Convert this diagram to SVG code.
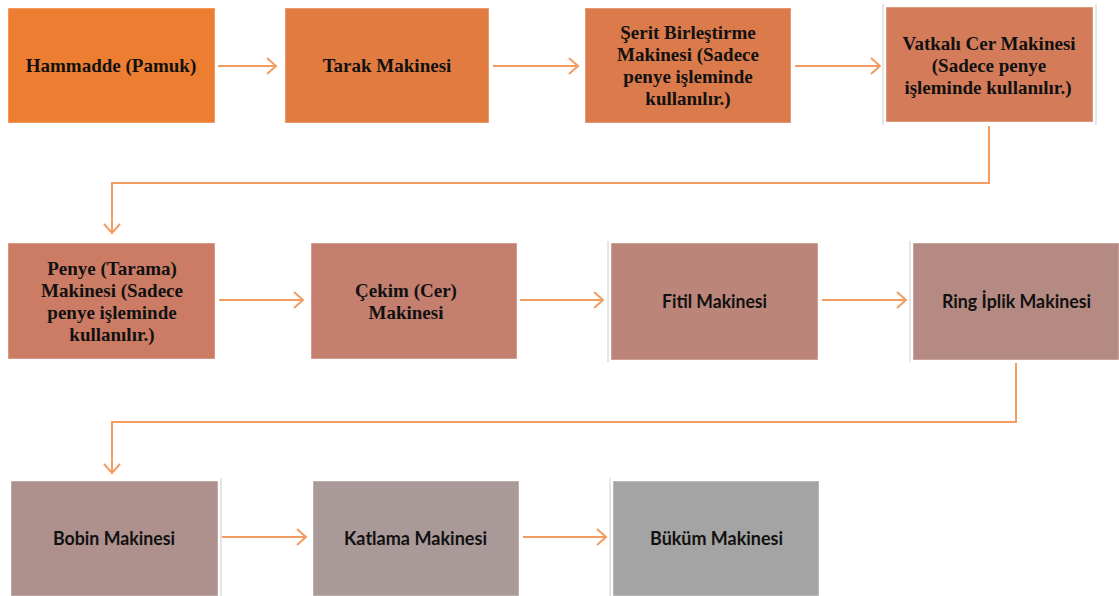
<svg xmlns="http://www.w3.org/2000/svg" width="1119" height="596" viewBox="0 0 1119 596">
<defs>
<marker id="chev" markerUnits="userSpaceOnUse" markerWidth="14" markerHeight="20" refX="11" refY="10" orient="auto" viewBox="0 0 14 20">
<path d="M2,2 L11,10 L2,18" fill="none" stroke="#F29C62" stroke-width="2"/>
</marker>
<style>
.box{stroke:#ffffff;stroke-opacity:0.45;stroke-width:1}
.serif{font-family:"Liberation Serif","Times New Roman",serif;font-weight:bold;font-size:19px;fill:#111;text-anchor:middle}
.sans{font-family:Lato,"Liberation Sans",sans-serif;font-weight:bold;font-size:18px;fill:#111;text-anchor:middle}
.conn{fill:none;stroke:#F29C62;stroke-width:2}
.edge{stroke:#cccccc;stroke-width:1}
</style>
</defs>
<rect width="1119" height="596" fill="#ffffff"/>
<g id="edges-deco">
<line class="edge" x1="883" y1="4" x2="883" y2="125"/>
<line class="edge" x1="1096" y1="4" x2="1096" y2="125"/>
<line class="edge" x1="608" y1="241" x2="608" y2="362"/>
<line class="edge" x1="910" y1="241" x2="910" y2="362"/>
<line class="edge" x1="221" y1="478" x2="221" y2="596"/>
<line class="edge" x1="610" y1="478" x2="610" y2="596"/>
</g>
<g id="connectors">
<line class="conn" x1="218" y1="66" x2="276" y2="66" marker-end="url(#chev)"/>
<line class="conn" x1="493" y1="66" x2="578" y2="66" marker-end="url(#chev)"/>
<line class="conn" x1="795" y1="66" x2="880" y2="66" marker-end="url(#chev)"/>
<polyline class="conn" points="989,126 989,183 112,183 112,233" marker-end="url(#chev)"/>
<line class="conn" x1="219" y1="300" x2="303" y2="300" marker-end="url(#chev)"/>
<line class="conn" x1="520" y1="300" x2="603" y2="300" marker-end="url(#chev)"/>
<line class="conn" x1="822" y1="300" x2="906" y2="300" marker-end="url(#chev)"/>
<polyline class="conn" points="1016,363 1016,422 112,422 112,473" marker-end="url(#chev)"/>
<line class="conn" x1="222" y1="537" x2="306" y2="537" marker-end="url(#chev)"/>
<line class="conn" x1="523" y1="537" x2="606" y2="537" marker-end="url(#chev)"/>
</g>
<g id="n1"><rect class="box" x="8" y="8" width="207" height="115" fill="#ED7D31"/><text class="serif" x="111" y="72">Hammadde (Pamuk)</text></g>
<g id="n2"><rect class="box" x="285" y="8" width="204" height="115" fill="#E27B40"/><text class="serif" x="387" y="72">Tarak Makinesi</text></g>
<g id="n3"><rect class="box" x="585" y="8" width="206" height="115" fill="#DB7A4B"/>
<text class="serif" x="688" y="38.5">Şerit Birleştirme</text>
<text class="serif" x="688" y="60.5">Makinesi (Sadece</text>
<text class="serif" x="688" y="82.5">penye işleminde</text>
<text class="serif" x="688" y="104.5">kullanılır.)</text></g>
<g id="n4"><rect class="box" x="886" y="7" width="207" height="115" fill="#D47B5A"/>
<text class="serif" x="989" y="49.5">Vatkalı Cer Makinesi</text>
<text class="serif" x="989" y="72">(Sadece penye</text>
<text class="serif" x="988" y="94">işleminde kullanılır.)</text></g>
<g id="n5"><rect class="box" x="8" y="243" width="207" height="116" fill="#CC7B64"/>
<text class="serif" x="112" y="274.5">Penye (Tarama)</text>
<text class="serif" x="112" y="296.5">Makinesi (Sadece</text>
<text class="serif" x="112" y="318.5">penye işleminde</text>
<text class="serif" x="112" y="340.5">kullanılır.)</text></g>
<g id="n6"><rect class="box" x="311" y="243" width="206" height="116" fill="#C47F6F"/>
<text class="serif" x="406" y="296.5">Çekim (Cer)</text>
<text class="serif" x="406" y="318.5">Makinesi</text></g>
<g id="n7"><rect class="box" x="611" y="243" width="207" height="117" fill="#BC8579"/>
<text class="sans" x="714.5" y="307.5" textLength="105" lengthAdjust="spacingAndGlyphs">Fitil Makinesi</text></g>
<g id="n8"><rect class="box" x="913" y="243" width="206" height="117" fill="#B58A82"/>
<text class="sans" x="1016.5" y="307.5" textLength="149" lengthAdjust="spacingAndGlyphs">Ring İplik Makinesi</text></g>
<g id="n9"><rect class="box" x="11" y="481" width="207" height="115" fill="#AE908D"/>
<text class="sans" x="114" y="544.5" textLength="122" lengthAdjust="spacingAndGlyphs">Bobin Makinesi</text></g>
<g id="n10"><rect class="box" x="313" y="481" width="206" height="115" fill="#A99A99"/>
<text class="sans" x="415.5" y="544.5" textLength="143" lengthAdjust="spacingAndGlyphs">Katlama Makinesi</text></g>
<g id="n11"><rect class="box" x="613" y="481" width="206" height="115" fill="#A4A4A4"/>
<text class="sans" x="716.5" y="544.5" textLength="133" lengthAdjust="spacingAndGlyphs">Büküm Makinesi</text></g>
</svg>
